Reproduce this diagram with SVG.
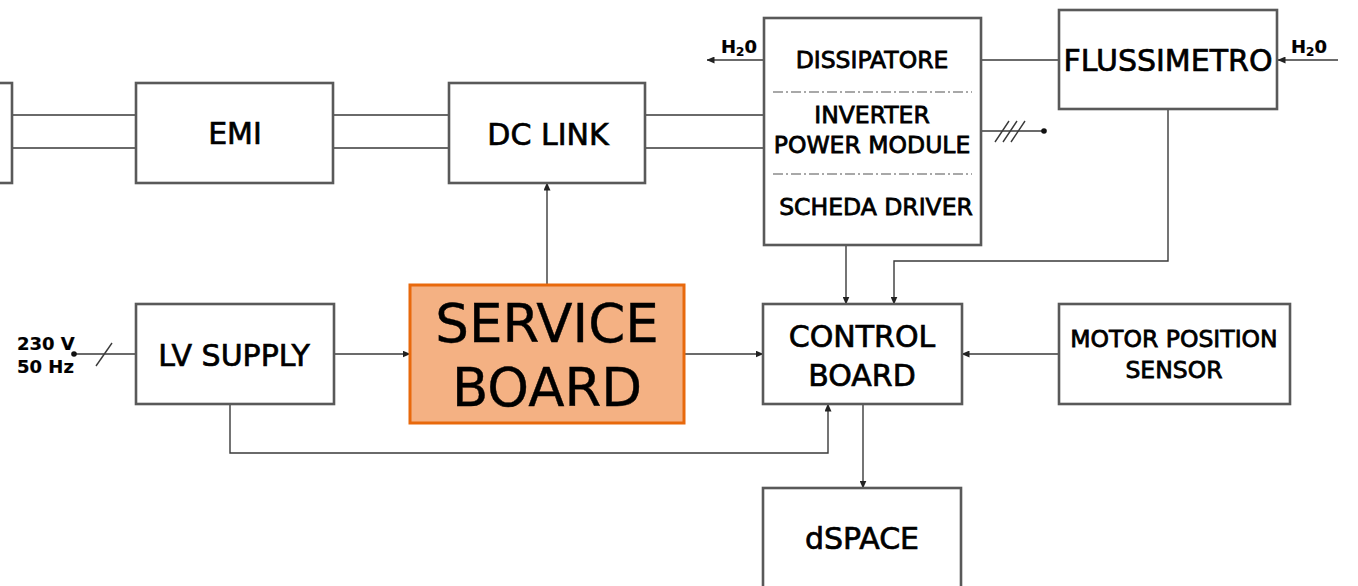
<svg xmlns="http://www.w3.org/2000/svg" width="1358" height="586" viewBox="0 0 1358 586">
  <style>
    .box { fill: #ffffff; stroke: #595959; stroke-width: 2.6; }
    .svc { fill: #F4B183; stroke: #E8690C; stroke-width: 3; }
    .wire { fill: none; stroke: #3a3a3a; stroke-width: 1.4; }
    .arr { marker-end: url(#head); }
    .sep { stroke: #8c8c8c; stroke-width: 1.3; stroke-dasharray: 10 3 2 3; }
    text { font-family: "DejaVu Sans", Verdana, sans-serif; fill: #000; text-anchor: middle; stroke: #000; stroke-width: 0.7; }
    .lbl { font-size: 30px; }
    .mid { font-size: 23.5px; stroke-width: 0.8; }
    .small { font-size: 18px; font-weight: bold; text-anchor: start; stroke-width: 0.2; }
    .svctext { font-size: 53px; stroke-width: 0.4; }
  </style>
  <defs>
    <marker id="head" markerUnits="userSpaceOnUse" markerWidth="8" markerHeight="7" refX="7.5" refY="3.5" orient="auto">
      <path d="M0,0 L8,3.5 L0,7 z" fill="#222"/>
    </marker>
  </defs>

  <!-- connectors -->
  <g id="connectors">
    <!-- power bus -->
    <path class="wire" d="M12,115 H136 M12,148 H136"/>
    <path class="wire" d="M333,115 H449 M333,148 H449"/>
    <path class="wire" d="M645,115 H764 M645,148 H764"/>
    <!-- cooling water -->
    <path class="wire arr" d="M764,60 H707"/>
    <path class="wire" d="M981,60 H1059"/>
    <path class="wire arr" d="M1338,60 H1278"/>
    <!-- three-phase output -->
    <path class="wire" d="M981,131 H1044"/>
    <path class="wire" d="M995,142 L1009,121 M1003,142 L1017,121 M1011,142 L1025,121"/>
    <circle cx="1044" cy="131" r="2.8" fill="#111"/>
    <!-- mains input -->
    <path class="wire" d="M74,354 H136"/>
    <path class="wire" d="M96,366 L112,343"/>
    <circle cx="74" cy="354" r="2.8" fill="#111"/>
    <!-- signal paths -->
    <path class="wire arr" d="M547,285 V183"/>
    <path class="wire arr" d="M334,354 H410"/>
    <path class="wire arr" d="M685,354 H763"/>
    <path class="wire arr" d="M846,245 V304"/>
    <path class="wire arr" d="M1168,109 V261 H894 V304"/>
    <path class="wire arr" d="M1059,354 H962"/>
    <path class="wire arr" d="M863,404 V488"/>
    <path class="wire arr" d="M230,404 V453 H828 V404"/>
    <!-- water labels -->
    <text class="small" x="721" y="53" font-size="19">H<tspan font-size="12" dy="3">2</tspan><tspan dy="-3">0</tspan></text>
    <text class="small" x="1291" y="53" font-size="19">H<tspan font-size="12" dy="3">2</tspan><tspan dy="-3">0</tspan></text>
    <!-- mains label -->
    <text class="small" x="17" y="350" font-size="18.5">230 V</text>
    <text class="small" x="17" y="373" font-size="18.5">50 Hz</text>
  </g>

  <g id="source">
    <rect class="box" x="-10" y="83" width="22" height="100"/>
  </g>

  <g id="emi">
    <rect class="box" x="136" y="83" width="197" height="100"/>
    <text class="lbl" x="235" y="144">EMI</text>
  </g>

  <g id="dc-link">
    <rect class="box" x="449" y="83" width="196" height="100"/>
    <text class="lbl" x="548" y="145" font-size="31">DC LINK</text>
  </g>

  <g id="inverter">
    <rect class="box" x="764" y="18" width="217" height="227"/>
    <text class="mid" x="872" y="68">DISSIPATORE</text>
    <line class="sep" x1="773" y1="92" x2="972" y2="92"/>
    <text class="mid" x="872" y="123">INVERTER</text>
    <text class="mid" x="872" y="153">POWER MODULE</text>
    <line class="sep" x1="773" y1="174" x2="972" y2="174"/>
    <text class="mid" x="876" y="215">SCHEDA DRIVER</text>
  </g>

  <g id="flussimetro">
    <rect class="box" x="1059" y="10" width="218" height="99"/>
    <text class="lbl" x="1168" y="71" font-size="27">FLUSSIMETRO</text>
  </g>

  <g id="lv-supply">
    <rect class="box" x="136" y="304" width="198" height="100"/>
    <text class="lbl" x="234" y="366">LV SUPPLY</text>
  </g>

  <g id="service-board">
    <rect class="svc" x="410" y="285" width="274" height="138"/>
    <text class="svctext" x="547" y="342">SERVICE</text>
    <text class="svctext" x="547" y="406">BOARD</text>
  </g>

  <g id="control-board">
    <rect class="box" x="763" y="304" width="199" height="100"/>
    <text class="lbl" x="862" y="347" font-size="31">CONTROL</text>
    <text class="lbl" x="862" y="386" font-size="31">BOARD</text>
  </g>

  <g id="motor-position-sensor">
    <rect class="box" x="1059" y="304" width="231" height="100"/>
    <text class="mid" x="1174" y="347" font-size="21.6">MOTOR POSITION</text>
    <text class="mid" x="1174" y="378" font-size="21.6">SENSOR</text>
  </g>

  <g id="dspace">
    <rect class="box" x="763" y="488" width="198" height="120"/>
    <text class="lbl" x="862" y="549" font-size="31">dSPACE</text>
  </g>
</svg>
